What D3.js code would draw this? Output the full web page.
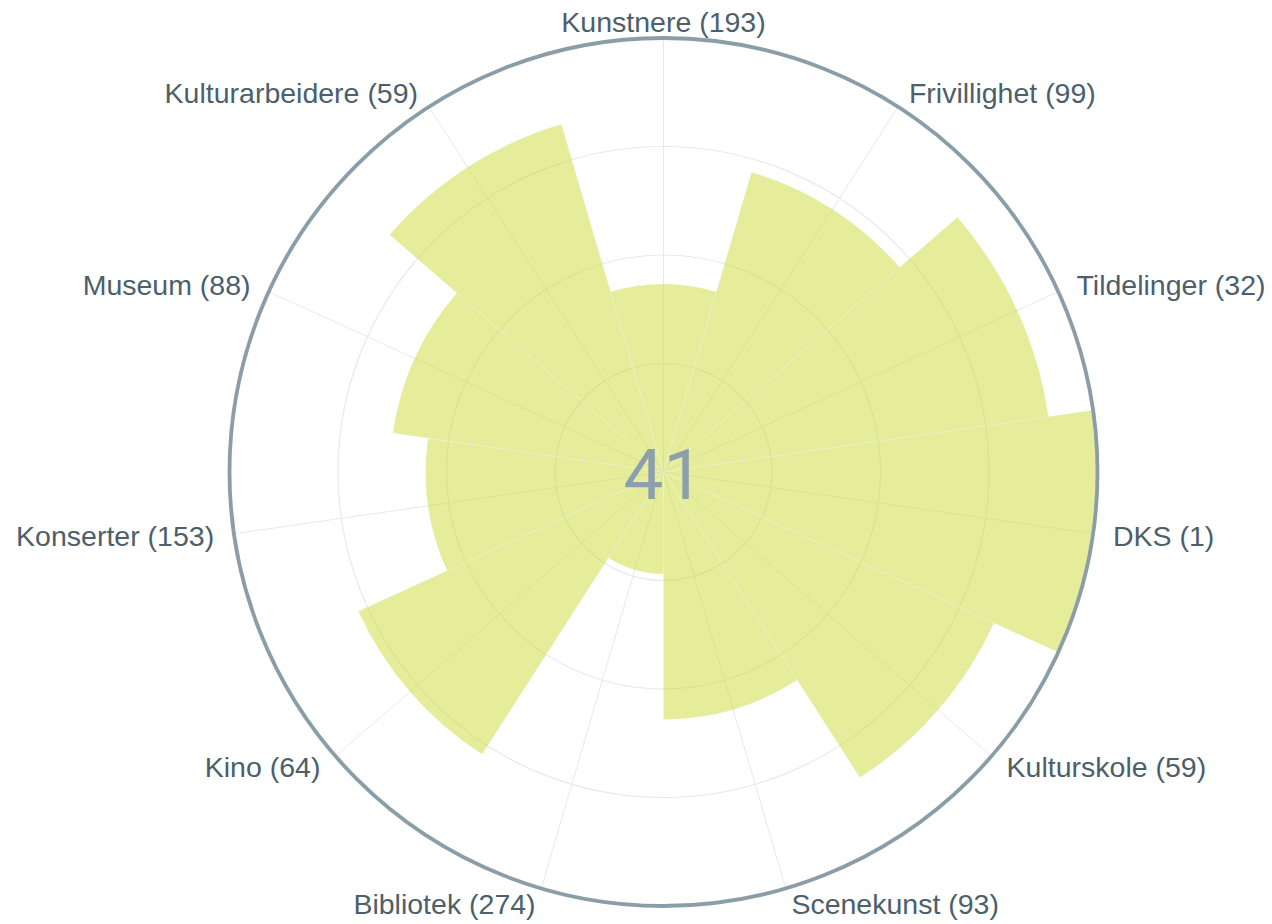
<!DOCTYPE html>
<html>
<head>
<meta charset="utf-8">
<script src="https://cdn.jsdelivr.net/npm/d3@7"></script>
<style>
  html, body { margin: 0; padding: 0; background: #fff; }
  svg { display: block; }
</style>
</head>
<body>
<svg id="chart"></svg>
<script>
// chart values
const categories = ['Kunstnere', 'Frivillighet', 'Tildelinger', 'DKS', 'Kulturskole',
  'Scenekunst', 'Bibliotek', 'Kino', 'Konserter', 'Museum', 'Kulturarbeidere'];
const ranks = [193, 99, 32, 1, 59, 93, 274, 64, 153, 88, 59];
const scores = [43.3, 72, 89.6, 100, 83.7, 57, 23.5, 77.3, 54.8, 63, 83.5];
const radialTicks = [25, 50, 75];
const radialMax = 100;
const centerValue = 41;

const width = 1272;
const height = 924;
const cx = 663.5;
const cy = 472;
const R = 434;

const labelFont = 28.5;
const labelColor = '#4c5f6b';
const barColor = '#cddc39';
const gridColor = '#e6e9ee';
const lineColor = '#8b9ea8';

const svg = d3.select('#chart').attr('width', width).attr('height', height);
const g = svg.append('g').attr('transform', `translate(${cx},${cy})`);

// scales
const r = d3.scaleLinear().domain([0, radialMax]).range([0, R]);
const step = (2 * Math.PI) / categories.length;
const angle = d3.scaleBand()
  .domain(categories)
  .range([-step / 2, 2 * Math.PI - step / 2])
  .paddingInner(0)
  .paddingOuter(0);
const mid = (c) => angle(c) + angle.bandwidth() / 2;

// grid circles
g.append('g')
  .selectAll('circle')
  .data(radialTicks)
  .join('circle')
  .attr('r', (d) => r(d))
  .attr('fill', 'none')
  .attr('stroke', gridColor)
  .attr('stroke-width', 1.2);

// angular grid lines
g.append('g')
  .selectAll('line')
  .data(categories)
  .join('line')
  .attr('x1', 0)
  .attr('y1', 0)
  .attr('x2', (c) => R * Math.sin(mid(c)))
  .attr('y2', (c) => -R * Math.cos(mid(c)))
  .attr('stroke', gridColor)
  .attr('stroke-width', 1);

// bars
const arc = d3.arc()
  .innerRadius(0)
  .outerRadius((d) => r(d.value))
  .startAngle((d) => angle(d.cat))
  .endAngle((d) => angle(d.cat) + angle.bandwidth());

const rows = categories.map((c, i) => ({ cat: c, value: scores[i], rank: ranks[i] }));

g.append('g')
  .attr('opacity', 0.5)
  .selectAll('path')
  .data(rows)
  .join('path')
  .attr('d', arc)
  .attr('fill', barColor)
  .attr('stroke', '#e5ecf6')
  .attr('stroke-opacity', 0.45)
  .attr('stroke-width', 0.5);

// outer circle
g.append('circle')
  .attr('r', R)
  .attr('fill', 'none')
  .attr('stroke', lineColor)
  .attr('stroke-width', 3.8);

// angular labels
g.append('g')
  .selectAll('text')
  .data(rows)
  .join('text')
  .each(function (d) {
    const a = mid(d.cat);
    const cosg = Math.sin(a);   // horizontal component
    const sing = Math.cos(a);   // vertical component (up)
    const px = R * cosg;
    const py = -R * sing;
    const x = px + 20 * cosg;
    const yc = py - 16 * sing;
    const anchor = cosg > 0.1 ? 'start' : cosg < -0.1 ? 'end' : 'middle';
    d3.select(this)
      .attr('x', x)
      .attr('y', yc + 10)
      .attr('text-anchor', anchor);
  })
  .style('font-family', '"Liberation Sans", Arial, sans-serif')
  .style('font-size', labelFont + 'px')
  .attr('fill', labelColor)
  .text((d) => `${d.cat} (${d.rank})`);

// center value
g.append('text')
  .attr('x', 0)
  .attr('y', 27)
  .attr('text-anchor', 'middle')
  .style('font-family', 'Roboto, "Liberation Sans", Arial, sans-serif')
  .style('font-size', '71px')
  .style('font-weight', 400)
  .attr('fill', '#8c9fab')
  .text(centerValue);
</script>
</body>
</html>
